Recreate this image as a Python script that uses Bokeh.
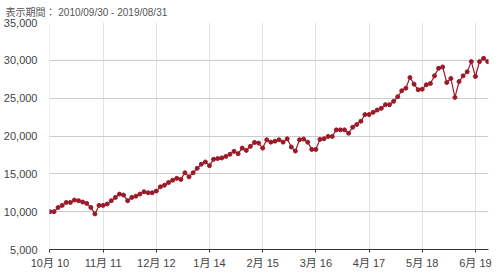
from bokeh.plotting import figure
from bokeh.models import FixedTicker, NumeralTickFormatter, Range1d
from bokeh.embed import file_html
from bokeh.resources import INLINE

# Monthly values, 2010/09/30 .. 2019/08/31
values = [
    10000, 10000, 10550, 10830, 11220, 11220, 11530, 11450, 11270, 11090,
    10560, 9700, 10830, 10830, 11010, 11450, 11880, 12320, 12190, 11450,
    11880, 12050, 12320, 12630, 12500, 12500, 12720, 13280, 13500, 13850,
    14160, 14400, 14260, 15140, 14600, 15140, 15730, 16270, 16570, 16080,
    16920, 17020, 17100, 17300, 17580, 17970, 17660, 18400, 18100, 18630,
    19150, 19060, 18400, 19500, 19190, 19320, 19500, 19190, 19630, 18540,
    18010, 19500, 19590, 19190, 18230, 18230, 19550, 19630, 19940, 19940,
    20810, 20810, 20810, 20370, 21160, 21520, 21950, 22830, 22830, 23130,
    23430, 23660, 24140, 24140, 24580, 25190, 25980, 26320, 27730, 26850,
    26110, 26190, 26770, 26940, 27950, 28950, 29130, 27070, 27600, 25100,
    27200, 27950, 28480, 29830, 27860, 29830, 30260, 29830,
]
month_index = list(range(len(values)))

tick_positions = [0, 13, 26, 39, 52, 65, 78, 91, 104]
tick_labels = ["10月 10", "11月 11", "12月 12", "1月 14", "2月 15",
               "3月 16", "4月 17", "5月 18", "6月 19"]
y_ticks = [5000, 10000, 15000, 20000, 25000, 30000, 35000]

title_text = "表示期間： 2010/09/30 - 2019/08/31"

FONT = "Liberation Sans, Noto Sans CJK JP, sans-serif"
LINE_COLOR = "#9a1a2a"

p = figure(width=500, height=275, output_backend="svg", toolbar_location=None,
           x_range=Range1d(-0.1, 107.2), y_range=Range1d(5000, 35000),
           min_border_left=46, min_border_right=12, min_border_top=21,
           min_border_bottom=26, background_fill_color="white",
           border_fill_color="white", outline_line_color=None)

p.title.text = title_text
p.title.text_font = FONT
p.title.text_font_size = "10px"
p.title.text_font_style = "normal"
p.title.text_color = "#555555"
p.title.align = "left"
p.title.offset = -44
p.title.standoff = 9

p.line(month_index, values, line_color=LINE_COLOR, line_width=1.2)
p.scatter(month_index, values, size=4, fill_color=LINE_COLOR,
          line_color=LINE_COLOR)

# x axis
xa = p.xaxis[0]
xa.ticker = FixedTicker(ticks=tick_positions)
xa.major_label_overrides = {t: l for t, l in zip(tick_positions, tick_labels)}
xa.axis_line_color = "#333333"
xa.axis_line_width = 1.2
xa.major_tick_line_color = "#333333"
xa.major_tick_in = 0
xa.major_tick_out = 3
xa.minor_tick_line_color = None
xa.major_label_text_font = FONT
xa.major_label_text_font_size = "11px"
xa.major_label_text_color = "#444444"
xa.major_label_standoff = 4

# y axis
ya = p.yaxis[0]
ya.ticker = FixedTicker(ticks=y_ticks)
ya.formatter = NumeralTickFormatter(format="0,0")
ya.axis_line_color = None
ya.major_tick_line_color = None
ya.minor_tick_line_color = None
ya.major_label_text_font = FONT
ya.major_label_text_font_size = "11px"
ya.major_label_text_color = "#444444"
ya.major_label_standoff = 6

p.xgrid.grid_line_color = "#e2e2e2"
p.ygrid.grid_line_color = "#cccccc"

open("out.html", "w").write(file_html(p, INLINE))
